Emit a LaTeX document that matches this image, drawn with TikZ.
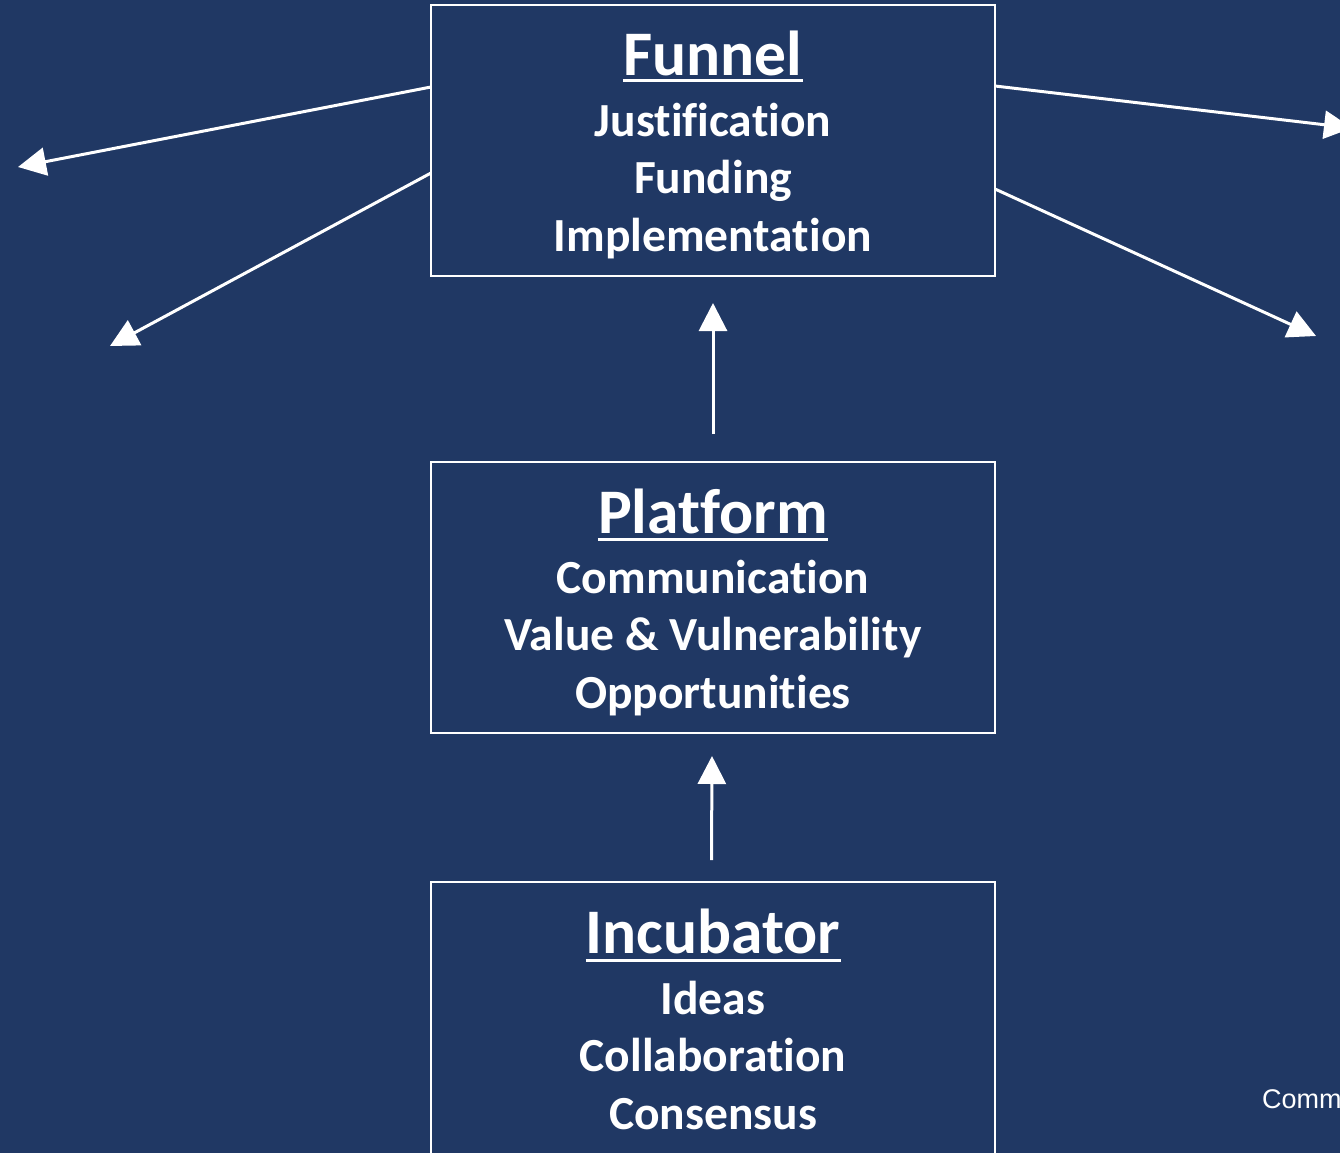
\documentclass[tikz,border=0pt]{standalone}
\usepackage{fontspec}
\setmainfont[Ligatures={NoCommon}]{Carlito}
\newfontfamily\arialfont{Liberation Sans}
\usetikzlibrary{arrows.meta}
\definecolor{bgblue}{RGB}{32,56,100}
\begin{document}
\begin{tikzpicture}[x=1pt,y=-1pt,
  boxst/.style={draw=white,line width=2pt,inner sep=0pt},
  titlest/.style={text=white,anchor=base,inner sep=0pt,font=\bfseries\fontsize{63.5}{70}\selectfont},
  itemst/.style={text=white,anchor=base,inner sep=0pt,font=\bfseries\fontsize{47.5}{56}\selectfont},
  arr/.style={draw=white,line width=3pt,-{Triangle[length=28pt,width=28pt]}},
  uline/.style={draw=white,line width=3pt}]
\fill[bgblue] (0,0) rectangle (1340,1153);
\useasboundingbox (0,0) rectangle (1340,1153);
\begin{scope}
\clip (0,0) rectangle (1340,1153);
% boxes
\node[boxst,minimum width=564pt,minimum height=271pt] (funnel) at (713,140.5) {};
\node[boxst,minimum width=564pt,minimum height=271pt] (platform) at (713,597.5) {};
\node[boxst,minimum width=564pt,minimum height=300pt] (incubator) at (713,1032) {};
% Funnel text
\node[titlest] (ft) at (713,76) {Funnel};
\node[itemst] (f1) at (713,136) {Justification};
\node[itemst] (f2) at (713,193) {Funding};
\node[itemst] (f3) at (713,251) {Implementation};
% Platform text
\node[titlest] (pt) at (713,533) {Platform};
\node[itemst] (p1) at (713,593) {Communication};
\node[itemst] (p2) at (713,650) {Value \& Vulnerability};
\node[itemst] (p3) at (713,708) {Opportunities};
% Incubator text
\node[titlest] (it) at (713,953) {Incubator};
\node[itemst] (i1) at (713,1014) {Ideas};
\node[itemst] (i2) at (713,1071) {Collaboration};
\node[itemst] (i3) at (713,1129) {Consensus};
% underlines
\draw[uline] ([yshift=-5pt]ft.base west) -- ([yshift=-5pt]ft.base east);
\draw[uline] ([yshift=-6pt]pt.base west) -- ([yshift=-6pt]pt.base east);
\draw[uline] ([yshift=-7pt]it.base west) -- ([yshift=-7pt]it.base east);
% free ends
\coordinate (tl) at (18,167);
\coordinate (ml) at (110,346);
\coordinate (tr) at (1352,128);
\coordinate (mr) at (1316,336);
\coordinate (fl1) at (431,87);
\coordinate (fl2) at (431,173);
\coordinate (fr1) at (995,86);
\coordinate (fr2) at (995,189);
\coordinate (up1s) at (713,434);
\coordinate (up1e) at (713,303);
\coordinate (up2s) at (711.5,860);
\coordinate (up2e) at (712,756);
\draw[arr] (fl1) -- (tl);
\draw[arr] (fl2) -- (ml);
\draw[arr] (fr1) -- (tr);
\draw[arr] (fr2) -- (mr);
\draw[arr] (up1s) -- (up1e);
\draw[arr] (up2s) -- (up2e);
\node[text=white,anchor=base west,inner sep=0pt,font=\arialfont\fontsize{27}{32}\selectfont] (comm) at (1262,1108) {Comm};
\end{scope}
\end{tikzpicture}
\end{document}
